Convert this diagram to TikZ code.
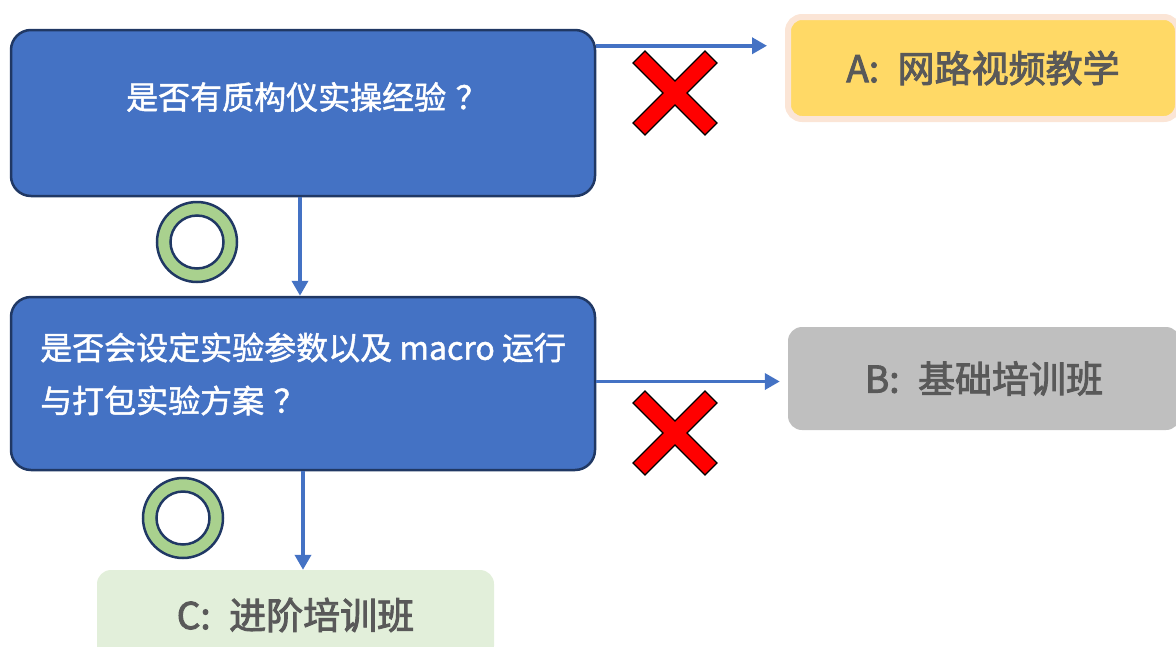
\documentclass[tikz,border=0pt]{standalone}
\usepackage{fontspec}
\setmainfont{Noto Sans CJK SC}
\newfontfamily\qfont{Noto Sans CJK SC}[FakeBold=1.5]
\newfontfamily\afont{Noto Sans CJK SC}[FakeBold=2.5]
\usetikzlibrary{arrows.meta}
\definecolor{qblue}{HTML}{4472C4}
\definecolor{navy}{HTML}{203864}
\definecolor{ringgreen}{HTML}{A9D18E}
\definecolor{ayellow}{HTML}{FFD966}
\definecolor{apink}{HTML}{FBE5D6}
\definecolor{bgray}{HTML}{BFBFBF}
\definecolor{cgreen}{HTML}{E2EFDA}
\definecolor{tgray}{HTML}{595959}
\begin{document}
\begin{tikzpicture}[x=1pt,y=-1pt,
  qbox/.style={draw=navy, line width=2.5pt, fill=qblue, rounded corners=20pt,
    minimum width=584pt, inner sep=0pt},
  qtext/.style={text=white, font=\qfont\fontsize{32}{53}\selectfont, inner sep=0pt},
  ansbox/.style={rounded corners=14pt, inner sep=0pt, text=tgray,
    font=\afont\fontsize{37}{40}\selectfont},
  arr/.style={draw=qblue, line width=3.6pt, -{Triangle[length=15pt,width=16pt]}},
  ring/.style={circle, draw=navy, line width=2.5pt, fill=ringgreen, minimum size=80pt, inner sep=0pt},
  hole/.style={circle, draw=navy, line width=2.5pt, fill=white, minimum size=53pt, inner sep=0pt},
  xmark/.pic={\draw[fill=red, draw=black, line width=1.3pt]
    (0,12) -- (30,42) -- (42,30) -- (12,0) -- (42,-30) -- (30,-42) -- (0,-12)
    -- (-30,-42) -- (-42,-30) -- (-12,0) -- (-42,30) -- (-30,42) -- cycle;}
]
\useasboundingbox (0,0) rectangle (1176,646);

% question boxes
\node[qbox, minimum height=166pt] (q1) at (303,113) {};
\node[qtext] (q1t) at (307,97) {是否有质构仪实操经验\hspace{0.3em}？};
\node[qbox, minimum height=173pt] (q2) at (303,383.5) {};
\node[qtext, anchor=west, align=left] (q2t) at (40,374) {是否会设定实验参数以及 macro 运行\\与打包实验方案\hspace{0.3em}？};

% answer boxes
\node[ansbox, draw=apink, line width=6pt, fill=ayellow, minimum width=390pt, minimum height=102pt] (A) at (983,68) {A:\hspace{0.5em}网路视频教学};
\node[ansbox, fill=bgray, minimum width=392pt, minimum height=103pt] (B) at (984,378.5) {B:\hspace{0.5em}基础培训班};
\node[ansbox, fill=cgreen, minimum width=397pt, minimum height=90pt] (C) at (295.5,615) {C:\hspace{0.5em}进阶培训班};

% connectors
\coordinate (a1) at ([yshift=-17pt]q1.north east);
\draw[arr, shorten >=18pt] (a1) -- (a1 -| A.west);
\draw[arr] ([xshift=-3pt]q1.south) -- ([xshift=-3pt]q2.north);
\coordinate (b1) at ([yshift=2pt]q2.east);
\draw[arr, shorten >=8pt] (b1) -- (b1 -| B.west);
\draw[arr] (q2.south) -- (q2.south |- C.north);

% yes marks
\node[ring] (o1) at (197,242) {};
\node[hole] (o1h) at (o1) {};
\node[ring] (o2) at (183,518) {};
\node[hole] (o2h) at (o2) {};

% no marks
\pic (x1) at (675,93) {xmark};
\pic (x2) at (675,433) {xmark};
\end{tikzpicture}
\end{document}
